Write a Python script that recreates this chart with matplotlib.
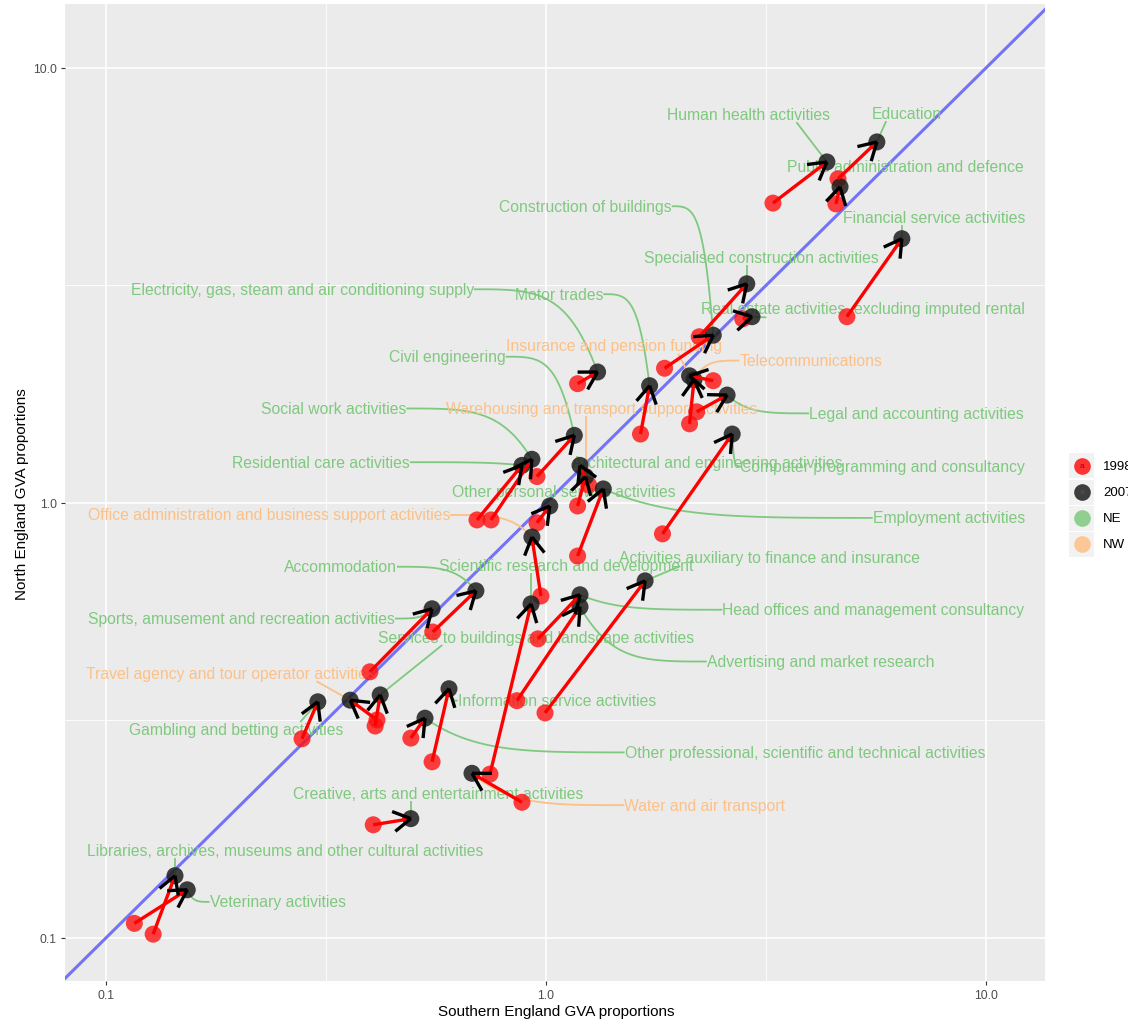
import numpy as np
import matplotlib
matplotlib.use("Agg")
import matplotlib.pyplot as plt
from matplotlib.lines import Line2D
from matplotlib.patches import Rectangle
from matplotlib.ticker import FixedLocator, NullFormatter

plt.rcParams['font.family'] = ['Liberation Sans', 'DejaVu Sans']

# ---- data: GVA proportions, southern vs northern England ----
industries = [
    "Education", "Human health activities", "Public administration and defence",
    "Financial service activities", "Specialised construction activities",
    "Real estate activities, excluding imputed rental", "Construction of buildings",
    "Insurance and pension funding", "Telecommunications", "Legal and accounting activities",
    "Electricity, gas, steam and air conditioning supply", "Motor trades",
    "Computer programming and consultancy", "Civil engineering", "Social work activities",
    "Residential care activities", "Architectural and engineering activities",
    "Warehousing and transport support activities", "Employment activities",
    "Other personal service activities", "Office administration and business support activities",
    "Accommodation", "Sports, amusement and recreation activities",
    "Scientific research and development", "Activities auxiliary to finance and insurance",
    "Head offices and management consultancy", "Advertising and market research",
    "Services to buildings and landscape activities", "Travel agency and tour operator activities",
    "Gambling and betting activities", "Information service activities",
    "Other professional, scientific and technical activities",
    "Creative, arts and entertainment activities", "Water and air transport",
    "Libraries, archives, museums and other cultural activities", "Veterinary activities",
]
region = ["NE", "NE", "NE", "NE", "NE", "NE", "NE", "NW", "NW", "NE",
          "NE", "NE", "NE", "NE", "NE", "NE", "NE", "NW", "NE", "NE",
          "NW", "NE", "NE", "NE", "NE", "NE", "NE", "NE", "NW", "NE",
          "NE", "NE", "NE", "NW", "NE", "NE"]
south_1998 = [4.61, 3.28, 4.56, 4.83, 2.23, 2.80, 1.86, 2.40, 2.12, 2.20,
              1.18, 1.64, 1.84, 0.954, 0.750, 0.697, 1.25, 1.18, 1.18, 0.954,
              0.974, 0.553, 0.398, 0.746, 0.995, 0.959, 0.859, 0.409, 0.413, 0.279,
              0.551, 0.493, 0.405, 0.882, 0.128, 0.116]
north_1998 = [5.56, 4.89, 4.87, 2.68, 2.41, 2.65, 2.04, 1.91, 1.52, 1.62,
              1.88, 1.44, 0.849, 1.15, 0.914, 0.914, 1.10, 0.984, 0.755, 0.900,
              0.611, 0.505, 0.409, 0.238, 0.329, 0.487, 0.351, 0.307, 0.317, 0.287,
              0.254, 0.288, 0.182, 0.205, 0.102, 0.108]
south_2007 = [5.65, 4.35, 4.66, 6.44, 2.86, 2.94, 2.40, 2.12, 2.17, 2.58,
              1.31, 1.72, 2.65, 1.16, 0.929, 0.882, 1.195, 1.23, 1.35, 1.02,
              0.929, 0.693, 0.551, 0.925, 1.68, 1.195, 1.195, 0.420, 0.359, 0.303,
              0.602, 0.531, 0.493, 0.679, 0.1435, 0.153]
north_2007 = [6.76, 6.08, 5.33, 4.05, 3.19, 2.68, 2.43, 1.96, 1.92, 1.77,
              2.00, 1.86, 1.44, 1.43, 1.26, 1.22, 1.22, 1.15, 1.077, 0.984,
              0.835, 0.628, 0.571, 0.586, 0.662, 0.615, 0.577, 0.362, 0.352, 0.349,
              0.374, 0.320, 0.188, 0.239, 0.139, 0.129]

# ---- layout: label centres in axes fractions ----
label_pos = [
    (0.859, 0.888), (0.697, 0.887), (0.858, 0.834), (0.887, 0.781), (0.711, 0.741),
    (0.814, 0.688), (0.531, 0.793), (0.560, 0.650), (0.761, 0.635), (0.869, 0.581),
    (0.242, 0.708), (0.504, 0.703), (0.834, 0.527), (0.390, 0.639), (0.274, 0.586),
    (0.261, 0.531), (0.655, 0.531), (0.548, 0.586), (0.902, 0.474), (0.509, 0.501),
    (0.208, 0.477), (0.281, 0.424), (0.180, 0.371), (0.511, 0.425), (0.719, 0.433),
    (0.825, 0.380), (0.771, 0.327), (0.481, 0.352), (0.169, 0.315), (0.175, 0.257),
    (0.502, 0.287), (0.755, 0.234), (0.381, 0.192), (0.653, 0.180), (0.225, 0.134),
    (0.217, 0.081),
]

region_colour = {"NE": "#7FC97F", "NW": "#FDC086"}
W, H = 1128, 1020

fig = plt.figure(figsize=(W / 100, H / 100), dpi=100)
fig.patch.set_facecolor("white")
ax = fig.add_axes([65 / W, 1 - 982 / H, 980 / W, 977 / H])
ax.set_xscale("log")
ax.set_yscale("log")
ax.set_xlim(0.0807, 13.62)
ax.set_ylim(0.0796, 14.03)
ax.set_facecolor("#EBEBEB")
for s in ax.spines.values():
    s.set_visible(False)

ax.xaxis.set_major_locator(FixedLocator([0.1, 1, 10]))
ax.yaxis.set_major_locator(FixedLocator([0.1, 1, 10]))
ax.set_xticklabels(["0.1", "1.0", "10.0"])
ax.set_yticklabels(["0.1", "1.0", "10.0"])
minor = [10 ** -0.5, 10 ** 0.5]
ax.xaxis.set_minor_locator(FixedLocator(minor))
ax.yaxis.set_minor_locator(FixedLocator(minor))
ax.xaxis.set_minor_formatter(NullFormatter())
ax.yaxis.set_minor_formatter(NullFormatter())
ax.grid(which="major", color="white", lw=1.2)
ax.grid(which="minor", color="white", lw=0.6)
ax.set_axisbelow(True)
ax.tick_params(which="minor", length=0)
ax.tick_params(which="major", length=3, width=0.8, color="#333333",
               labelsize=8.8, labelcolor="#4D4D4D", pad=3)

# y = x reference line
ax.plot([0.01, 100], [0.01, 100], color=(0.45, 0.45, 0.97), lw=2.2, zorder=1.5)

x98 = np.array(south_1998); y98 = np.array(north_1998)
x07 = np.array(south_2007); y07 = np.array(north_2007)

# labels (underneath the points)
texts = []
for i, name in enumerate(industries):
    fx, fy = label_pos[i]
    t = ax.text(fx, fy, name, transform=ax.transAxes, ha="center", va="center",
                fontsize=11.3, color=region_colour[region[i]], zorder=2.2)
    texts.append(t)

# points
ax.scatter(x98, y98, s=150, color="#FF1010", alpha=0.8, edgecolors="none", zorder=3)
ax.scatter(x07, y07, s=150, color="#1E1E1E", alpha=0.85, edgecolors="none", zorder=3.1)

# arrow shafts
for i in range(len(industries)):
    ax.plot([x98[i], x07[i]], [y98[i], y07[i]], color="#FF0000", lw=2.4,
            solid_capstyle="butt", zorder=4)

fig.canvas.draw()
T = ax.transData
Ti = T.inverted()
renderer = fig.canvas.get_renderer()

# open arrowheads at the 2007 end
wing_len, wing_ang = 20.0, np.deg2rad(30)
for i in range(len(industries)):
    p0 = T.transform((x98[i], y98[i]))
    p1 = T.transform((x07[i], y07[i]))
    d = p1 - p0
    L = np.hypot(*d)
    if L < 1:
        continue
    back = -d / L
    for a in (wing_ang, -wing_ang):
        r = np.array([back[0] * np.cos(a) - back[1] * np.sin(a),
                      back[0] * np.sin(a) + back[1] * np.cos(a)])
        tip = p1 + r * wing_len
        pts = Ti.transform(np.vstack([p1, tip]))
        ax.plot(pts[:, 0], pts[:, 1], color="black", lw=2.4,
                solid_capstyle="butt", zorder=5)

# curved connectors from label to its 2007 point
tt = np.linspace(0, 1, 60)[:, None]
for i, t in enumerate(texts):
    bb = t.get_window_extent(renderer)
    P3 = T.transform((x07[i], y07[i]))
    px, py = P3
    yc = 0.5 * (bb.y0 + bb.y1)
    if px > bb.x1 or px < bb.x0:
        sx = bb.x1 + 1 if px > bb.x1 else bb.x0 - 1
        P0 = np.array([sx, yc])
        dx = px - sx
        P1 = np.array([sx + 0.5 * dx, yc])
        P2 = np.array([px - 0.25 * dx, yc])
    else:
        if bb.y0 <= py <= bb.y1:
            continue
        w = bb.width
        sx = np.clip(px, bb.x0 + 0.2 * w, bb.x1 - 0.2 * w)
        sy = bb.y1 + 1 if py > bb.y1 else bb.y0 - 1
        P0 = np.array([sx, sy])
        P1 = P0 + (P3 - P0) / 3
        P2 = P0 + 2 * (P3 - P0) / 3
    if np.hypot(*(P3 - P0)) < 10:
        continue
    curve = ((1 - tt) ** 3) * P0 + 3 * ((1 - tt) ** 2) * tt * P1 \
        + 3 * (1 - tt) * tt ** 2 * P2 + tt ** 3 * P3
    dc = Ti.transform(curve)
    ax.plot(dc[:, 0], dc[:, 1], color=region_colour[region[i]], lw=1.3, zorder=2.1)

# axis titles
fig.text(556 / W, 1 - 1012 / H, "Southern England GVA proportions", ha="center",
         va="center", fontsize=11, color="black")
fig.text(22 / W, 1 - 494 / H, "North England GVA proportions", ha="center",
         va="center", rotation=90, fontsize=11, color="black")

# legend (runs off the right edge of the canvas)
leg_items = [("1998", "#FF1010", True), ("2007", "#1E1E1E", True),
             ("NE", "#7FC97F", False), ("NW", "#FDC086", False)]
leg_y = [467, 493, 519, 545]
for (lab, col, with_a), yy in zip(leg_items, leg_y):
    fy = 1 - yy / H
    fig.add_artist(Rectangle((1069 / W, fy - 12.5 / H), 25 / W, 25 / H,
                             transform=fig.transFigure, facecolor="#F2F2F2",
                             edgecolor="none"))
    fig.add_artist(Line2D([1081.5 / W], [fy], marker="o", markersize=12,
                          color=col, alpha=0.85, markeredgewidth=0,
                          transform=fig.transFigure))
    if with_a:
        fig.text(1081.5 / W, fy, "a", ha="center", va="center", fontsize=6,
                 color="#555555" if lab == "2007" else "#A00000")
    fig.text(1103 / W, fy, lab, ha="left", va="center", fontsize=9.5, color="black")

fig.savefig("out.png", dpi=100)
